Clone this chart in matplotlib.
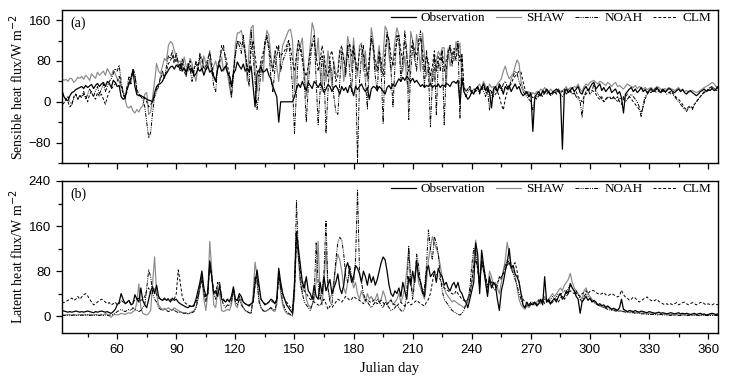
import numpy as np
import matplotlib
matplotlib.use("Agg")
import matplotlib.pyplot as plt
from matplotlib.ticker import MultipleLocator
from matplotlib.lines import Line2D

days = np.arange(32, 366)

# ---------------- Sensible heat flux (W m-2) ----------------
obs_H = [
    22, 10, 4, 2, 12, 18, 20, 24, 26, 28,
    30, 26, 32, 28, 31, 34, 26, 32, 36, 30,
    35, 38, 30, 40, 36, 28, 42, 38, 30, 32,
    10, 5, 8, 25, 35, 47, 62, 30, 14, 12,
    12, 10, 8, 5, 3, 2, 0, 18, 30, 34,
    36, 40, 50, 55, 62, 68, 70, 64, 72, 68,
    74, 60, 66, 58, 70, 62, 66, 50, 55, 64,
    60, 66, 52, 64, 70, 58, 62, 50, 40, 66,
    72, 60, 64, 70, 58, 50, 30, 55, 62, 78,
    70, 64, 74, 60, 66, 58, 70, 30, -10, 55,
    62, 68, 58, 60, 65, 52, 45, 30, 20, 10,
    -40, 0, 0, 0, 0, 0, 0, 0, 10, 25,
    35, 28, 40, 30, 22, 38, 32, 26, 40, 35,
    28, 36, 30, 18, 25, 34, 30, 20, 28, 32,
    25, 15, 30, 22, 28, 18, 32, 26, 12, 30,
    24, 30, 35, 26, 20, 28, 5, 25, 30, 28,
    22, 30, 26, 20, 15, 28, 32, 25, 35, 30,
    38, 45, 40, 48, 42, 50, 45, 40, 46, 38,
    42, 36, 30, 34, 28, 32, 30, 36, 28, 32,
    30, 35, 28, 33, 30, 36, 34, 30, 38, 40,
    36, 42, -5, 47, 20, 12, 5, 10, 20, 15,
    25, 30, 20, 28, 35, 22, 30, 18, -12, 25,
    30, 20, 35, 28, 15, 30, 25, 32, 20, 28,
    35, 25, 30, 18, 12, 15, 20, 10, 18, -58,
    10, 15, 20, 12, 22, 18, 25, 20, 15, 18,
    22, 25, 20, 15, -93, 20, 25, 18, 22, 28,
    20, 25, 30, 18, 15, 25, 30, 22, 28, 35,
    38, 25, 30, 35, 22, 28, 20, 25, 30, 18,
    22, 25, 15, 20, 8, -22, 15, 20, 25, 28,
    20, 25, 18, 22, 28, 20, 24, 18, 22, 26,
    20, 24, 28, 22, 18, 25, 20, 22, 26, 24,
    20, 18, 22, 25, 20, 24, 18, 15, 20, 22,
    18, 15, 12, 15, 20, 22, 25, 20, 24, 22,
    26, 22, 25, 28,
]

shaw_H = [
    45, 42, 44, 40, 46, 45, 38, 42, 48, 46,
    50, 44, 52, 48, 42, 55, 50, 46, 58, 52,
    56, 60, 52, 65, 58, 50, 62, 55, 45, 40,
    30, 20, 5, -10, -12, -8, -18, -22, -15, -20,
    -12, -8, 15, 18, -25, -20, 10, 40, 75, 60,
    55, 70, 85, 80, 110, 118, 115, 100, 90, 78,
    80, 65, 88, 70, 60, 85, 75, 55, 40, 70,
    82, 60, 90, 75, 65, 85, 55, 70, 80, 62,
    75, 88, 60, 70, 55, 30, 8, 60, 110, 135,
    135, 140, 120, 90, 40, 110, 145, 150, 60, 20,
    50, 80, 40, 110, 140, 130, 90, 60, 100, 70,
    40, 80, 110, 120, 130, 140, 142, 120, 20, 90,
    120, 110, 125, 60, 10, 70, 110, 155, 140, 80,
    125, 60, 20, 90, 40, 100, 70, 30, 80, 50,
    60, 102, 90, 40, 70, 128, 110, 60, 125, 80,
    50, 110, 115, 60, 100, 40, 70, 145, 120, 60,
    80, 110, 60, 90, 148, 140, 90, 60, 80, 120,
    145, 130, 70, 60, 90, 40, 20, 138, 120, 80,
    132, 100, 60, 135, 90, 50, 70, 30, 60, 40,
    80, 99, 90, 106, 106, 30, 105, 70, 90, 80,
    118, 100, 115, 40, 30, 20, 25, 30, 20, 25,
    25, 30, 35, 25, 40, 30, 20, 35, 28, 30,
    25, 35, 40, 45, 60, 70, 55, 45, 50, 55,
    70, 82, 75, 40, 25, 20, 15, 20, 12, 18,
    15, 20, 18, 25, 22, 28, 20, 18, 25, 20,
    22, 18, 25, 20, 22, 25, 30, 20, 28, 25,
    30, 28, 35, 25, 20, 30, 35, 32, 38, 40,
    42, 38, 35, 40, 38, 35, 32, 38, 35, 30,
    35, 38, 30, 32, 28, 25, 30, 35, 32, 30,
    28, 32, 26, 30, 28, 25, 28, 24, 26, 28,
    24, 26, 30, 28, 25, 22, 26, 24, 28, 26,
    24, 22, 25, 28, 22, 25, 20, 22, 18, 20,
    22, 20, 18, 20, 22, 25, 28, 30, 32, 35,
    38, 35, 30, 28,
]

noah_H = [
    -6, -2, 5, 10, 0, -5, 8, 15, 5, 12,
    10, 20, 5, 15, 25, 18, 10, 22, 30, 15,
    25, 35, 20, 30, 40, 45, 55, 65, 60, 72,
    40, 20, 10, 30, 50, 35, 65, 55, 20, 15,
    10, 5, -10, -40, -71, -60, -20, 10, 20, 30,
    50, 60, 45, 70, 90, 85, 100, 80, 95, 75,
    60, 85, 70, 50, 75, 65, 40, 60, 80, 70,
    95, 85, 70, 60, 80, 100, 65, 30, 20, 70,
    85, 100, 110, 80, 60, 40, 10, 50, 90, 120,
    110, 95, 130, 100, 60, 30, 140, 90, 40, -15,
    20, 60, 80, 120, 130, 100, 50, 20, 60, 90,
    110, 60, 80, 90, 100, 120, 80, 30, -62, 20,
    100, 110, 90, 40, -40, 30, 80, 120, 130, 40,
    -45, 20, 90, 60, -62, 20, 80, 50, 10, -20,
    -25, 40, 100, 90, 50, 110, 60, 20, 100, 70,
    -120, 40, 90, 110, 40, -14, 80, 130, 100, 50,
    20, 90, 60, -42, 80, 136, 120, 60, -10, 70,
    130, 120, 40, 80, 139, 100, -35, 60, 110, 90,
    60, 120, 139, 80, 30, 100, 60, -49, 40, 90,
    -25, 80, 60, 100, -45, 60, 90, 110, 70, 100,
    80, 120, -32, 90, 20, 10, 20, 25, 15, 20,
    20, 25, 15, 30, 20, 10, 25, -16, 20, 15,
    25, 20, 30, 22, 35, 40, 30, 25, 45, 50,
    60, 55, 40, 30, 20, 15, 10, 5, 0, -16,
    5, 10, 15, 10, 20, 15, 22, 18, 12, 20,
    18, 20, 25, 15, 10, 15, 20, 25, 20, 15,
    18, 10, 5, 0, -30, 10, 20, 25, 15, 20,
    35, 20, 15, 10, 5, 0, 5, 10, 8, 5,
    10, 5, 0, 8, 5, 10, 0, 5, 10, 15,
    10, 5, 0, -10, -30, -5, 10, 15, 20, 22,
    20, 22, 25, 20, 18, 22, 20, 15, 18, 20,
    15, 10, 5, 0, -5, -10, -15, -19, -12, -10,
    -15, -5, 0, 5, 10, 15, 20, 22, 25, 28,
    30, 25, 28, 30,
]

clm_H = [
    15, 10, 5, 0, -10, -5, 10, 15, 5, 12,
    8, 15, 10, 0, 15, 20, 10, 5, 18, 10,
    15, 5, -5, 10, 20, 25, 30, 35, 40, 50,
    30, 15, 5, 20, 40, 45, 60, 50, 25, 15,
    12, 10, 5, 0, -10, -5, 0, 15, 25, 35,
    45, 55, 50, 60, 75, 80, 90, 75, 85, 70,
    65, 75, 60, 50, 70, 80, 55, 65, 75, 60,
    90, 80, 65, 70, 85, 95, 75, 50, 40, 65,
    80, 110, 100, 90, 70, 55, 30, 60, 95, 115,
    120, 110, 115, 95, 70, 60, 100, 120, 90, 60,
    50, 80, 95, 110, 125, 110, 80, 60, 90, 110,
    100, 90, 95, 100, 110, 120, 105, 80, 60, 90,
    120, 100, 80, 60, 50, 70, 100, 110, 120, 90,
    60, 80, 110, 90, 60, 50, 90, 100, 70, 40,
    50, 100, 110, 80, 60, 100, 115, 90, 110, 80,
    60, 100, 110, 90, 70, 50, 90, 120, 110, 80,
    60, 100, 80, 50, 100, 130, 120, 90, 70, 100,
    120, 130, 100, 80, 120, 90, 60, 100, 120, 100,
    90, 110, 125, 100, 60, 90, 80, 50, 70, 100,
    60, 90, 80, 100, 60, 80, 100, 110, 90, 105,
    100, 110, 80, 95, 30, 20, 25, 30, 20, 25,
    22, 28, 18, 25, 30, 20, 15, 25, 20, 10,
    15, 20, 10, -5, -16, 5, 20, 30, 35, 45,
    50, 55, 60, 58, 40, 25, 15, 10, 12, 8,
    10, 5, 12, 15, 10, 18, 15, 20, 12, 15,
    20, 15, 22, 18, 20, 25, 15, 20, 22, 18,
    15, 20, 10, 5, 0, 10, 15, 20, 25, 22,
    20, 15, 8, 5, 10, 0, 5, 8, 10, 5,
    8, 5, 10, 0, -5, 5, 10, 15, 10, 5,
    0, -5, -10, -15, -20, -10, 5, 15, 20, 18,
    22, 20, 18, 22, 25, 20, 18, 22, 20, 15,
    18, 12, 8, 5, 0, -5, -12, -15, -10, -8,
    -12, -5, 0, 5, 10, 15, 18, 20, 22, 25,
    28, 25, 22, 25,
]

# ---------------- Latent heat flux (W m-2) ----------------
obs_LE = [
    10, 9, 8, 7, 8, 7, 8, 9, 8, 7,
    8, 7, 8, 9, 8, 7, 6, 8, 7, 8,
    9, 8, 7, 8, 6, 5, 8, 12, 20, 25,
    40, 30, 22, 25, 28, 20, 22, 38, 30, 25,
    50, 28, 20, 15, 30, 45, 52, 40, 55, 35,
    30, 28, 32, 28, 30, 25, 32, 28, 30, 25,
    22, 20, 18, 16, 15, 18, 17, 20, 30, 45,
    60, 80, 50, 35, 40, 98, 70, 40, 45, 35,
    55, 30, 28, 25, 30, 25, 35, 52, 30, 28,
    40, 35, 25, 22, 20, 18, 22, 25, 60, 82,
    55, 30, 25, 20, 22, 25, 30, 28, 22, 30,
    85, 60, 40, 30, 20, 15, 10, 5, 60, 150,
    120, 90, 60, 50, 70, 45, 40, 30, 55, 35,
    30, 60, 40, 70, 45, 55, 65, 40, 50, 60,
    75, 50, 40, 55, 85, 95, 80, 60, 70, 90,
    85, 75, 60, 80, 70, 55, 75, 60, 70, 55,
    65, 80, 95, 105, 100, 80, 55, 40, 35, 45,
    40, 50, 35, 60, 45, 30, 70, 55, 80, 60,
    99, 70, 60, 45, 35, 80, 90, 70, 75, 80,
    60, 85, 75, 70, 55, 60, 50, 45, 55, 60,
    50, 60, 45, 40, 30, 25, 15, 30, 45, 60,
    130, 110, 40, 117, 90, 60, 35, 70, 50, 60,
    55, 30, 10, 45, 60, 80, 95, 120, 85, 90,
    75, 70, 60, 40, 20, 15, 25, 18, 22, 20,
    25, 18, 22, 30, 20, 70, 25, 30, 22, 28,
    30, 25, 35, 40, 30, 35, 45, 40, 58, 50,
    45, 35, 30, 5, 25, 30, 35, 28, 32, 25,
    28, 25, 20, 22, 18, 20, 15, 18, 15, 12,
    14, 12, 10, 15, 30, 12, 10, 8, 10, 9,
    8, 10, 8, 7, 9, 8, 7, 6, 8, 7,
    6, 5, 6, 7, 5, 6, 5, 4, 5, 6,
    5, 4, 5, 6, 4, 5, 4, 5, 4, 3,
    4, 5, 3, 4, 5, 3, 4, 2, 3, 4,
    5, 4, 3, 4,
]

shaw_LE = [
    3, 2, 2, 3, 2, 2, 3, 2, 2, 3,
    2, 3, 2, 2, 3, 2, 2, 3, 2, 2,
    3, 2, 5, 3, 0, -2, 2, 3, 2, 3,
    5, 4, 3, 5, 6, 5, 8, 10, 25, 57,
    15, 5, 3, 2, 5, 10, 60, 105, 40, 20,
    15, 12, 14, 12, 15, 12, 10, 15, 12, 10,
    8, 6, 5, 5, 4, 6, 8, 10, 15, 30,
    50, 70, 30, 10, 40, 133, 80, 20, 15, 45,
    40, 10, 8, 10, 12, 10, 20, 50, 20, 15,
    35, 25, 15, 10, 8, 6, 5, 40, 96, 70,
    30, 15, 10, 8, 10, 12, 15, 10, 8, 20,
    80, 40, 20, 10, 5, 3, 2, 0, 40, 140,
    100, 60, 40, 62, 30, 20, 15, 20, 30, 60,
    133, 40, 20, 60, 120, 50, 30, 40, 60, 90,
    110, 100, 80, 50, 40, 60, 80, 70, 50, 60,
    40, 30, 45, 35, 25, 40, 30, 35, 28, 30,
    40, 25, 30, 45, 35, 20, 25, 30, 20, 25,
    30, 40, 25, 35, 50, 80, 120, 60, 40, 70,
    90, 60, 50, 40, 30, 60, 100, 120, 141, 130,
    120, 110, 90, 70, 50, 40, 35, 30, 25, 28,
    25, 22, 20, 18, 15, 20, 25, 40, 60, 100,
    135, 90, 60, 100, 80, 60, 40, 80, 70, 55,
    60, 50, 40, 60, 80, 100, 131, 110, 90, 80,
    70, 50, 30, 20, 15, 12, 18, 15, 20, 25,
    20, 25, 30, 22, 28, 35, 25, 30, 35, 40,
    35, 40, 45, 50, 45, 55, 60, 65, 76, 60,
    50, 45, 40, 35, 30, 45, 50, 40, 35, 30,
    25, 22, 20, 18, 20, 15, 18, 16, 14, 12,
    12, 10, 12, 10, 9, 8, 10, 8, 7, 8,
    7, 6, 7, 6, 5, 6, 5, 4, 5, 4,
    4, 5, 4, 3, 4, 3, 4, 3, 2, 3,
    3, 2, 3, 4, 3, 2, 3, 2, 3, 2,
    2, 3, 2, 1, 2, 3, 2, 1, 2, 2,
    3, 2, 2, 3,
]

noah_LE = [
    2, 1, 2, 1, 2, 1, 2, 1, 2, 1,
    2, 1, 2, 2, 1, 2, 1, 2, 2, 1,
    2, 1, 2, 1, 2, 2, 3, 5, 8, 10,
    12, 10, 8, 10, 12, 10, 15, 12, 10, 8,
    10, 15, 20, 50, 82, 70, 40, 30, 25, 15,
    12, 10, 12, 10, 8, 10, 12, 10, 8, 6,
    8, 6, 5, 6, 4, 5, 6, 8, 15, 30,
    55, 70, 40, 25, 50, 95, 70, 40, 30, 55,
    60, 30, 20, 15, 20, 18, 25, 45, 25, 20,
    30, 20, 15, 10, 8, 6, 5, 30, 70, 60,
    25, 15, 10, 8, 10, 12, 15, 12, 10, 25,
    75, 50, 25, 15, 8, 5, 3, 2, 40, 205,
    110, 60, 40, 25, 20, 15, 10, 20, 40, 130,
    60, 30, 40, 80, 170, 50, 25, 20, 60, 100,
    130, 140, 135, 110, 70, 60, 90, 70, 60, 100,
    225, 80, 60, 40, 30, 25, 20, 15, 20, 25,
    30, 25, 20, 15, 25, 20, 15, 10, 12, 15,
    20, 15, 10, 8, 15, 40, 124, 60, 30, 60,
    110, 90, 60, 40, 50, 90, 153, 120, 100, 141,
    130, 110, 70, 45, 30, 25, 20, 15, 10, 8,
    5, 3, 2, 5, 10, 20, 30, 50, 90, 120,
    110, 80, 50, 100, 90, 70, 50, 60, 55, 50,
    45, 55, 70, 65, 80, 90, 100, 95, 85, 75,
    65, 55, 40, 30, 20, 15, 20, 18, 22, 20,
    25, 20, 22, 28, 25, 30, 28, 25, 30, 35,
    30, 35, 40, 38, 42, 45, 40, 50, 55, 50,
    45, 40, 38, 30, 25, 35, 40, 35, 30, 28,
    25, 22, 20, 18, 16, 15, 14, 12, 11, 10,
    10, 9, 9, 8, 9, 8, 7, 7, 6, 6,
    6, 5, 5, 5, 4, 4, 4, 3, 3, 3,
    3, 3, 2, 2, 3, 2, 2, 2, 2, 1,
    2, 1, 2, 1, 1, 2, 1, 1, 1, 2,
    1, 1, 2, 1, 1, 1, 2, 1, 1, 1,
    1, 2, 1, 1,
]

clm_LE = [
    25, 24, 26, 28, 30, 32, 28, 30, 35, 30,
    34, 38, 40, 36, 30, 25, 20, 22, 25, 28,
    30, 28, 25, 22, 24, 20, 22, 25, 20, 22,
    28, 25, 22, 24, 26, 22, 25, 28, 30, 32,
    28, 30, 35, 45, 50, 40, 45, 50, 38, 32,
    30, 28, 30, 28, 32, 30, 28, 30, 40, 82,
    60, 35, 25, 22, 20, 18, 16, 18, 25, 35,
    50, 65, 45, 35, 40, 90, 70, 45, 40, 60,
    55, 35, 30, 25, 30, 28, 32, 45, 30, 28,
    35, 30, 25, 22, 20, 20, 22, 25, 55, 70,
    50, 30, 25, 22, 22, 25, 28, 25, 22, 28,
    70, 55, 40, 30, 25, 20, 15, 10, 50, 130,
    115, 80, 55, 45, 40, 35, 30, 28, 25, 22,
    20, 18, 25, 30, 22, 12, 18, 15, 20, 25,
    30, 28, 25, 30, 35, 32, 28, 30, 35, 32,
    30, 28, 25, 22, 28, 30, 26, 24, 28, 25,
    22, 25, 28, 24, 20, 22, 25, 28, 22, 20,
    18, 22, 25, 20, 18, 22, 25, 20, 22, 25,
    28, 25, 22, 20, 18, 25, 30, 40, 60, 80,
    75, 70, 65, 55, 50, 48, 45, 42, 40, 38,
    45, 40, 35, 30, 28, 25, 30, 40, 60, 90,
    100, 85, 60, 95, 80, 70, 55, 65, 60, 58,
    55, 60, 65, 70, 75, 85, 90, 95, 85, 90,
    95, 80, 60, 40, 30, 25, 22, 20, 25, 22,
    25, 20, 28, 25, 30, 22, 25, 28, 20, 25,
    28, 30, 25, 32, 35, 30, 35, 40, 45, 42,
    40, 45, 38, 35, 40, 42, 45, 40, 44, 46,
    45, 42, 40, 38, 40, 42, 38, 36, 38, 40,
    38, 36, 34, 36, 46, 38, 34, 32, 28, 30,
    34, 32, 28, 25, 27, 30, 32, 34, 30, 28,
    26, 28, 30, 26, 24, 22, 20, 22, 20, 22,
    20, 22, 24, 20, 22, 24, 25, 22, 20, 22,
    24, 22, 20, 22, 24, 25, 22, 20, 22, 20,
    20, 22, 21, 20,
]

series_names = ["Observation", "SHAW", "NOAH", "CLM"]
x_ticks = [60, 90, 120, 150, 180, 210, 240, 270, 300, 330, 360]
yticks_H = [-80, 0, 80, 160]
yticks_LE = [0, 80, 160, 240]

for arr in (obs_H, shaw_H, noah_H, clm_H, obs_LE, shaw_LE, noah_LE, clm_LE):
    assert len(arr) == len(days), len(arr)

SERIF = "Liberation Serif"
SANS = "Liberation Sans"

styles = {
    "Observation": dict(color="black", lw=0.9, ls="-", zorder=5),
    "SHAW": dict(color="#8a8a8a", lw=0.85, ls="-", zorder=2),
    "NOAH": dict(color="black", lw=0.7, ls=(0, (4, 1.2, 1, 1.2, 1, 1.2)), zorder=3),
    "CLM": dict(color="black", lw=0.7, ls=(0, (3, 2)), zorder=4),
}

fig = plt.figure(figsize=(7.35, 3.77), dpi=100)
ax1 = fig.add_axes([0.0844, 0.5676, 0.8925, 0.406])
ax2 = fig.add_axes([0.0844, 0.1167, 0.8925, 0.4032])

def draw(ax, data, ylim, yticks, label, tag, show_x):
    for name, vals in zip(series_names, data):
        ax.plot(days, vals, label=name, **styles[name])
    ax.set_xlim(32, 365)
    ax.set_ylim(*ylim)
    ax.set_xticks(x_ticks)
    ax.xaxis.set_minor_locator(MultipleLocator(15))
    ax.set_yticks(yticks)
    ax.yaxis.set_minor_locator(MultipleLocator(40))
    ax.tick_params(which="both", direction="out", top=False, right=False,
                   labelsize=9.5, width=0.9)
    ax.tick_params(which="major", length=4.5)
    ax.tick_params(which="minor", length=3)
    for lab in ax.get_xticklabels() + ax.get_yticklabels():
        lab.set_fontfamily(SANS)
    if not show_x:
        ax.tick_params(axis="x", labelbottom=False)
    for sp in ax.spines.values():
        sp.set_linewidth(1.0)
    ax.set_ylabel(label, fontfamily=SERIF, fontsize=10, labelpad=2)
    ax.text(0.012, 0.96, tag, transform=ax.transAxes, fontfamily=SERIF,
            fontsize=10, va="top", ha="left")
    handles = [Line2D([], [], **{k: v for k, v in styles[n].items() if k != "zorder"})
               for n in series_names]
    ax.legend(handles, series_names, loc="upper right", ncol=4, frameon=False,
              prop={"family": SERIF, "size": 9.5}, handlelength=1.85,
              columnspacing=0.8, handletextpad=0.4, borderaxespad=0.0,
              bbox_to_anchor=(0.998, 1.02))

draw(ax1, [obs_H, shaw_H, noah_H, clm_H], (-120, 180), yticks_H,
     "Sensible heat flux/W m$^{-2}$", "(a)", False)
draw(ax2, [obs_LE, shaw_LE, noah_LE, clm_LE], (-30, 240), yticks_LE,
     "Latent heat flux/W m$^{-2}$", "(b)", True)
ax2.set_xlabel("Julian day", fontfamily=SERIF, fontsize=10.5, labelpad=4)

fig.savefig("out.png", dpi=100)
